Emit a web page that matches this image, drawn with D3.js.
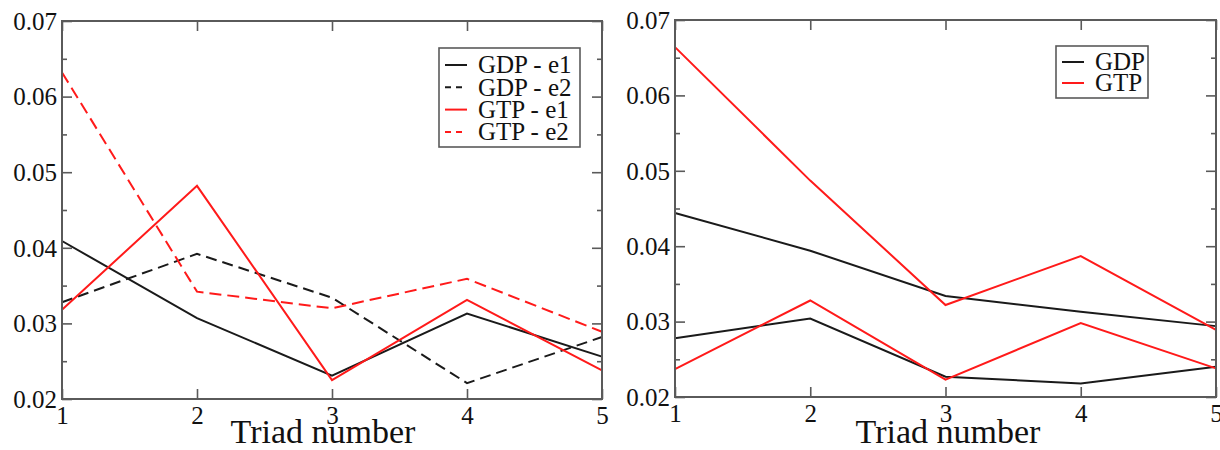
<!DOCTYPE html>
<html>
<head>
<meta charset="utf-8">
<script src="https://cdn.jsdelivr.net/npm/d3@7"></script>
<style>
  body { margin: 0; background: #fff; }
  svg { display: block; }
  text { font-family: "Liberation Serif", "Times New Roman", serif; fill: #111; }
</style>
</head>
<body>
<script>
// values
var triads = [1, 2, 3, 4, 5];
var yTicks = [0.02, 0.03, 0.04, 0.05, 0.06, 0.07];
var yMinorTicks = [0.025, 0.035, 0.045, 0.055, 0.065];

var gdpE1 = [0.0409, 0.0307, 0.0231, 0.0313, 0.0256];
var gdpE2 = [0.0328, 0.0392, 0.0334, 0.0221, 0.0282];
var gtpE1 = [0.0318, 0.0482, 0.0225, 0.0331, 0.0238];
var gtpE2 = [0.0632, 0.0342, 0.0320, 0.0359, 0.0289];

var gdpA = [0.0444, 0.0394, 0.0334, 0.0313, 0.0294];
var gdpB = [0.0278, 0.0304, 0.0227, 0.0218, 0.0240];
var gtpA = [0.0664, 0.0487, 0.0322, 0.0387, 0.0289];
var gtpB = [0.0237, 0.0328, 0.0223, 0.0298, 0.0238];

var black = '#1a1a1a';
var red = '#ff1a1a';
var frameColor = '#5a5a5a';
var serif = "'Liberation Serif', 'Times New Roman', serif";

var svg = d3.select('body').append('svg')
    .attr('width', 1220)
    .attr('height', 450);

function drawPanel(box, series, legend) {
    var x = d3.scaleLinear().domain([1, 5]).range([box.x0, box.x1]);
    var y = d3.scaleLinear().domain([0.02, 0.07]).range([box.y1, box.y0]);
    var g = svg.append('g');

    // minor ticks, left and right, pointing inward
    g.append('g')
	.attr('transform', 'translate(' + box.x0 + ',0)')
	.call(d3.axisLeft(y).tickValues(yMinorTicks).tickSize(-5).tickFormat(''));
    g.append('g')
	.attr('transform', 'translate(' + box.x1 + ',0)')
	.call(d3.axisRight(y).tickValues(yMinorTicks).tickSize(-5).tickFormat(''));

    var left = g.append('g')
	.attr('transform', 'translate(' + box.x0 + ',0)')
	.call(d3.axisLeft(y).tickValues(yTicks).tickSizeInner(-10).tickSizeOuter(0)
	      .tickPadding(5).tickFormat(d3.format('.2f')));
    g.append('g')
	.attr('transform', 'translate(' + box.x1 + ',0)')
	.call(d3.axisRight(y).tickValues(yTicks).tickSizeInner(-10).tickSizeOuter(0).tickFormat(''));

    var bottom = g.append('g')
	.attr('transform', 'translate(0,' + box.y1 + ')')
	.call(d3.axisBottom(x).tickValues(triads).tickSizeInner(-10).tickSizeOuter(0)
	      .tickPadding(7).tickFormat(d3.format('d')));
    g.append('g')
	.attr('transform', 'translate(0,' + box.y0 + ')')
	.call(d3.axisTop(x).tickValues(triads).tickSizeInner(-10).tickSizeOuter(0).tickFormat(''));

    g.selectAll('.domain').remove();
    g.selectAll('.tick line').attr('stroke', frameColor).attr('stroke-width', 1.6);
    left.selectAll('text')
	.style('font-family', serif)
	.style('font-size', '25px')
	.attr('fill', '#111')
	.attr('dy', '0.33em');
    bottom.selectAll('text')
	.style('font-family', serif)
	.style('font-size', '25px')
	.attr('fill', '#111')
	.attr('dy', '0.7em');

    var line = d3.line()
	.x(function(d, i) { return x(triads[i]); })
	.y(function(d) { return y(d); });

    g.selectAll('.series')
	.data(series)
	.enter().append('path')
	.attr('class', 'series')
	.attr('d', function(d) { return line(d.values); })
	.attr('fill', 'none')
	.attr('stroke', function(d) { return d.color; })
	.attr('stroke-width', 2)
	.attr('stroke-linejoin', 'miter')
	.attr('stroke-dasharray', function(d) { return d.dash || null; });

    g.append('rect')
	.attr('x', box.x0)
	.attr('y', box.y0)
	.attr('width', box.x1 - box.x0)
	.attr('height', box.y1 - box.y0)
	.attr('fill', 'none')
	.attr('stroke', frameColor)
	.attr('stroke-width', 2);

    g.append('text')
	.attr('x', box.titleX)
	.attr('y', 443)
	.attr('text-anchor', 'middle')
	.style('font-size', '34px')
	.text('Triad number');

    // legend
    var lg = g.append('g');
    lg.append('rect')
	.attr('x', legend.x)
	.attr('y', legend.y)
	.attr('width', legend.w)
	.attr('height', legend.h)
	.attr('fill', '#fff')
	.attr('stroke', frameColor)
	.attr('stroke-width', 1.6);
    var rows = lg.selectAll('.row')
	.data(legend.items)
	.enter().append('g')
	.attr('class', 'row')
	.attr('transform', function(d, i) {
	    return 'translate(' + legend.x + ',' + (legend.y + legend.first + i * legend.step) + ')';
	});
    rows.append('line')
	.attr('x1', 6).attr('x2', 28)
	.attr('stroke', function(d) { return d.color; })
	.attr('stroke-width', 2)
	.attr('stroke-dasharray', function(d) { return d.dash ? '6,5' : null; });
    rows.append('text')
	.attr('x', 39)
	.attr('dy', '0.33em')
	.style('font-size', '25px')
	.text(function(d) { return d.name; });
}

drawPanel(
    { x0: 62, x1: 602, y0: 21, y1: 399, titleX: 323 },
    [
	{ values: gdpE1, color: black },
	{ values: gdpE2, color: black, dash: '11,6' },
	{ values: gtpE1, color: red },
	{ values: gtpE2, color: red, dash: '12,6' }
    ],
    {
	x: 439, y: 48, w: 141, h: 99, first: 17, step: 22.3,
	items: [
	    { name: 'GDP - e1', color: black },
	    { name: 'GDP - e2', color: black, dash: true },
	    { name: 'GTP - e1', color: red },
	    { name: 'GTP - e2', color: red, dash: true }
	]
    }
);

drawPanel(
    { x0: 675, x1: 1216, y0: 20, y1: 397, titleX: 948 },
    [
	{ values: gdpA, color: black },
	{ values: gdpB, color: black },
	{ values: gtpA, color: red },
	{ values: gtpB, color: red }
    ],
    {
	x: 1056, y: 46, w: 92, h: 52, first: 16, step: 21,
	items: [
	    { name: 'GDP', color: black },
	    { name: 'GTP', color: red }
	]
    }
);
</script>
</body>
</html>
